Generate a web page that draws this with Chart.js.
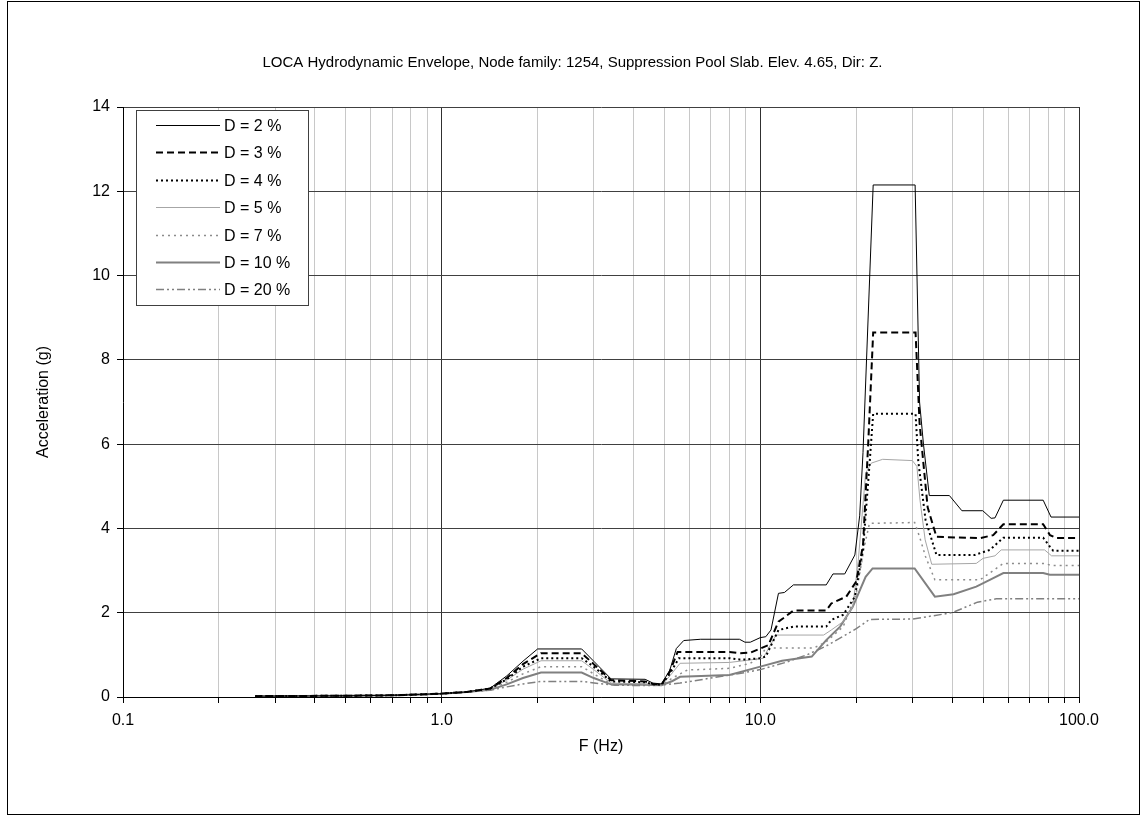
<!DOCTYPE html>
<html>
<head>
<meta charset="utf-8">
<script src="https://cdn.jsdelivr.net/npm/chart.js@4.4.0/dist/chart.umd.min.js"></script>
<style>
  html, body { margin: 0; padding: 0; background: #fff; }
</style>
</head>
<body>
<canvas id="grafico" width="1141" height="816"></canvas>
<script>
// Espectros de respuesta [frecuencia Hz, aceleración g] por amortiguamiento
const d2 = [[0.26,0.02],[0.5,0.03],[0.7,0.04],[0.85,0.06],[1.0,0.08],[1.2,0.12],[1.42,0.21],[1.6,0.5],[1.8,0.85],[2.0,1.14],[2.75,1.14],[3.0,0.85],[3.4,0.43],[4.35,0.42],[4.6,0.33],[4.9,0.31],[5.2,0.64],[5.45,1.15],[5.75,1.34],[6.5,1.37],[8.6,1.37],[8.95,1.3],[9.3,1.3],[10.0,1.41],[10.4,1.43],[10.8,1.59],[11.4,2.46],[11.9,2.48],[12.7,2.66],[16.1,2.66],[16.9,2.92],[18.4,2.92],[19.8,3.37],[20.5,4.3],[21.0,5.8],[22.6,12.15],[30.6,12.15],[31.6,7.0],[32.5,6.0],[33.9,4.78],[39.2,4.78],[42.9,4.42],[49.9,4.42],[53.0,4.24],[54.5,4.25],[57.9,4.67],[77.2,4.67],[81.7,4.27],[100,4.27]];
const d3 = [[0.26,0.02],[0.5,0.03],[0.7,0.04],[0.85,0.06],[1.0,0.08],[1.2,0.12],[1.42,0.2],[1.6,0.45],[1.8,0.78],[2.05,1.04],[2.75,1.04],[3.0,0.78],[3.4,0.4],[4.35,0.37],[4.6,0.31],[4.9,0.3],[5.2,0.6],[5.5,1.07],[8.0,1.07],[8.6,1.04],[9.3,1.05],[10.0,1.15],[10.6,1.23],[11.4,1.79],[11.8,1.87],[12.7,2.05],[16.1,2.05],[16.7,2.22],[18.6,2.38],[20.0,2.74],[21.0,3.6],[21.8,6.0],[22.6,8.65],[30.7,8.65],[31.6,6.5],[33.5,4.5],[35.7,3.8],[48.9,3.77],[53.8,3.84],[57.9,4.1],[77.2,4.1],[81.1,3.84],[85,3.77],[100,3.77]];
const d4 = [[0.26,0.02],[0.5,0.03],[0.7,0.04],[0.85,0.06],[1.0,0.08],[1.2,0.12],[1.42,0.2],[1.6,0.42],[1.8,0.72],[2.05,0.92],[2.75,0.92],[3.0,0.72],[3.4,0.37],[4.35,0.35],[4.6,0.3],[4.9,0.29],[5.2,0.55],[5.55,0.92],[8.0,0.92],[8.6,0.89],[9.0,0.89],[10.0,0.92],[10.4,0.96],[11.4,1.59],[12.7,1.67],[16.1,1.67],[16.7,1.83],[18.2,1.95],[19.8,2.38],[21.0,3.5],[22.0,5.5],[22.6,6.72],[30.7,6.72],[31.3,5.6],[33.0,4.2],[35.7,3.37],[47.1,3.37],[52.5,3.49],[57.9,3.78],[77.2,3.78],[81,3.57],[83,3.47],[100,3.47]];
const d5 = [[0.26,0.02],[0.5,0.03],[0.7,0.04],[0.85,0.06],[1.0,0.08],[1.2,0.12],[1.42,0.19],[1.6,0.4],[1.8,0.66],[2.05,0.86],[2.75,0.86],[3.0,0.65],[3.4,0.33],[4.35,0.31],[4.9,0.28],[5.2,0.5],[5.6,0.8],[8.0,0.82],[9.3,0.88],[10.2,0.92],[11.2,1.47],[15.8,1.47],[16.7,1.59],[18.2,1.79],[19.5,2.14],[20.3,3.25],[21.4,5.31],[22.3,5.55],[24.2,5.64],[30.0,5.61],[31.0,5.47],[31.7,4.67],[32.9,3.73],[34.5,3.15],[47.6,3.17],[50,3.29],[54.5,3.35],[57,3.49],[78,3.49],[82,3.35],[100,3.35]];
const d7 = [[0.26,0.02],[0.5,0.03],[0.7,0.04],[0.85,0.06],[1.0,0.08],[1.2,0.12],[1.42,0.18],[1.6,0.35],[1.8,0.55],[2.05,0.72],[2.75,0.72],[3.0,0.55],[3.4,0.31],[4.35,0.3],[4.9,0.28],[5.3,0.45],[5.9,0.64],[8.0,0.68],[9.3,0.8],[10.0,0.95],[10.4,1.16],[14.7,1.16],[16.1,1.31],[18.2,1.67],[20.0,2.46],[21.2,3.57],[22.0,4.12],[30.5,4.14],[31.6,3.8],[33.0,3.33],[35.3,2.78],[48.9,2.78],[54.5,3.03],[57.9,3.17],[78,3.17],[82,3.12],[100,3.12]];
const d10 = [[0.26,0.02],[0.5,0.03],[0.7,0.04],[0.85,0.06],[1.0,0.08],[1.2,0.12],[1.42,0.17],[1.6,0.3],[1.8,0.45],[2.05,0.58],[2.75,0.58],[3.0,0.45],[3.4,0.3],[4.35,0.29],[4.9,0.28],[5.3,0.38],[5.6,0.48],[8.0,0.52],[10.0,0.72],[11.7,0.86],[14.5,0.96],[16.1,1.35],[17.8,1.67],[19.5,2.14],[21.4,2.85],[22.5,3.05],[30.5,3.05],[35.3,2.38],[40.4,2.44],[47.6,2.62],[52.5,2.78],[57.9,2.94],[77.2,2.94],[81,2.9],[100,2.9]];
const d20 = [[0.26,0.02],[0.5,0.03],[0.7,0.04],[0.85,0.06],[1.0,0.08],[1.2,0.12],[1.42,0.16],[1.6,0.24],[1.8,0.31],[2.05,0.37],[2.75,0.37],[3.1,0.32],[3.5,0.28],[4.5,0.27],[5.0,0.29],[5.6,0.33],[7.0,0.45],[8.5,0.55],[10,0.65],[12,0.82],[14,1.0],[16,1.2],[18,1.42],[20,1.62],[22,1.84],[30,1.85],[40,2.0],[48,2.25],[55,2.33],[100,2.33]];

const etiquetas = ["D = 2 %", "D = 3 %", "D = 4 %", "D = 5 %", "D = 7 %", "D = 10 %", "D = 20 %"];
const series = [d2, d3, d4, d5, d7, d10, d20];

// Ticks del eje X (log) y ticks del eje Y
const xTicks = [0.1,0.2,0.3,0.4,0.5,0.6,0.7,0.8,0.9,1,2,3,4,5,6,7,8,9,10,20,30,40,50,60,70,80,90,100];
const xDecadas = [0.1, 1, 10, 100];
const yTicks = [0, 2, 4, 6, 8, 10, 12, 14];

const estilos = [
  { borderColor: "#000000", borderWidth: 1, borderDash: [] },
  { borderColor: "#000000", borderWidth: 2, borderDash: [7, 4] },
  { borderColor: "#000000", borderWidth: 2, borderDash: [2, 3] },
  { borderColor: "#a6a6a6", borderWidth: 1, borderDash: [] },
  { borderColor: "#8c8c8c", borderWidth: 1.5, borderDash: [2, 4] },
  { borderColor: "#808080", borderWidth: 2, borderDash: [] },
  { borderColor: "#808080", borderWidth: 1.5, borderDash: [8, 3, 2, 3, 2, 3] }
];

const fuente = '"Liberation Sans", Arial, sans-serif';

// Leyenda dentro del área del gráfico
const leyenda = {
  id: "leyenda",
  afterDatasetsDraw(chart) {
    const { ctx, chartArea } = chart;
    const x0 = chartArea.left + 13, y0 = chartArea.top + 3, w = 172, h = 195;
    ctx.save();
    ctx.fillStyle = "#fff";
    ctx.fillRect(x0, y0, w, h);
    ctx.strokeStyle = "#404040";
    ctx.lineWidth = 1;
    ctx.strokeRect(x0 + 0.5, y0 + 0.5, w, h);
    ctx.font = "16px " + fuente;
    ctx.textBaseline = "middle";
    chart.data.datasets.forEach((ds, i) => {
      const y = Math.round(y0 + 15 + i * 27.4) + 0.5;
      ctx.save();
      ctx.strokeStyle = ds.borderColor;
      ctx.lineWidth = ds.borderWidth;
      ctx.setLineDash(ds.borderDash);
      ctx.beginPath();
      ctx.moveTo(x0 + 20, y);
      ctx.lineTo(x0 + 84, y);
      ctx.stroke();
      ctx.restore();
      ctx.fillStyle = "#000";
      ctx.fillText(ds.label, x0 + 88, y + 1);
    });
    ctx.restore();
  }
};

// Fondo blanco y marco exterior
const marco = {
  id: "marco",
  beforeDraw(chart) {
    const ctx = chart.ctx;
    ctx.save();
    ctx.fillStyle = "#fff";
    ctx.fillRect(0, 0, chart.width, chart.height);
    ctx.restore();
  },
  afterDraw(chart) {
    const ctx = chart.ctx;
    ctx.save();
    ctx.strokeStyle = "#000";
    ctx.lineWidth = 1;
    ctx.strokeRect(7.5, 1.5, chart.width - 9, chart.height - 3);
    ctx.restore();
  }
};

new Chart(document.getElementById("grafico"), {
  type: "line",
  data: {
    datasets: series.map((s, i) => ({
      label: etiquetas[i],
      data: s.map(p => ({ x: p[0], y: p[1] })),
      borderColor: estilos[i].borderColor,
      borderWidth: estilos[i].borderWidth,
      borderDash: estilos[i].borderDash,
      pointRadius: 0,
      tension: 0,
      fill: false
    }))
  },
  options: {
    responsive: false,
    animation: false,
    devicePixelRatio: 1,
    layout: { padding: { left: 66, right: 62, top: 0, bottom: 0 } },
    plugins: {
      legend: { display: false },
      tooltip: { enabled: false },
      title: {
        display: true,
        text: "LOCA Hydrodynamic Envelope, Node family: 1254, Suppression Pool Slab. Elev. 4.65, Dir: Z.",
        color: "#000",
        font: { family: fuente, size: 15, weight: "normal" },
        padding: { top: 54, bottom: 35 }
      }
    },
    scales: {
      x: {
        type: "logarithmic",
        min: 0.1,
        max: 100,
        afterBuildTicks: s => { s.ticks = xTicks.map(v => ({ value: v })); },
        afterFit: s => { s.height = 119; },
        ticks: {
          autoSkip: false,
          maxRotation: 0,
          padding: 8,
          color: "#000",
          font: { family: fuente, size: 16 },
          callback: v => (xDecadas.includes(v) ? v.toFixed(1) : "")
        },
        grid: {
          color: c => ([1, 10, 100].includes(c.tick && c.tick.value) ? "#303030" : "#c8c8c8"),
          tickColor: "#000",
          tickLength: 6
        },
        border: { display: true, color: "#000" },
        title: {
          display: true,
          text: "F (Hz)",
          color: "#000",
          font: { family: fuente, size: 16 },
          padding: { top: 0, bottom: 60 }
        }
      },
      y: {
        min: 0,
        max: 14,
        afterBuildTicks: s => { s.ticks = yTicks.map(v => ({ value: v })); },
        afterFit: s => { s.width = 57; },
        ticks: {
          padding: 7,
          color: "#000",
          font: { family: fuente, size: 16 }
        },
        grid: {
          color: "#404040",
          tickColor: "#000",
          tickLength: 6
        },
        border: { display: true, color: "#000" },
        title: {
          display: true,
          text: "Acceleration (g)",
          color: "#000",
          font: { family: fuente, size: 16 },
          padding: { top: -32, bottom: 0 }
        }
      }
    }
  },
  plugins: [marco, leyenda]
});
</script>
</body>
</html>
